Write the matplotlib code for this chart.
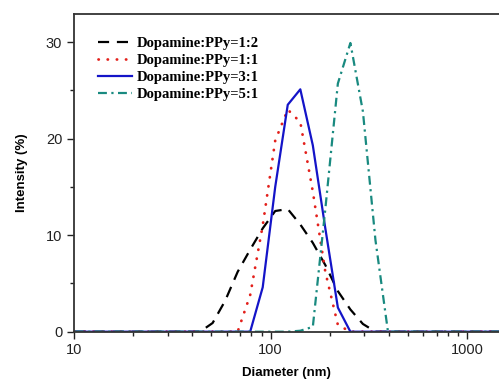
import matplotlib
matplotlib.use("Agg")
import matplotlib.pyplot as plt
from matplotlib.ticker import LogLocator, NullFormatter, FixedLocator, FuncFormatter

# Size bins (nm)
diameter = [10.10, 11.70, 13.54, 15.69, 18.17, 21.04, 24.36, 28.21, 32.67, 37.84,
            43.82, 50.75, 58.77, 68.06, 78.82, 91.28, 105.7, 122.4, 141.8, 164.2,
            190.1, 220.2, 255.0, 295.3, 342.0, 396.1, 458.7, 531.2, 615.1, 712.4,
            825.0, 955.4, 1106, 1281, 1484, 1718]

ratio_1_2 = [0, 0, 0, 0, 0, 0, 0, 0, 0, 0,
             0, 0.9, 3.2, 6.2, 8.5, 10.7, 12.5, 12.7, 11.1, 9.2,
             6.9, 4.2, 2.3, 0.8, 0, 0, 0, 0, 0, 0,
             0, 0, 0, 0, 0, 0]
ratio_1_1 = [0, 0, 0, 0, 0, 0, 0, 0, 0, 0,
             0, 0, 0, 0, 3.8, 11.0, 19.8, 23.0, 21.7, 14.5,
             6.2, 0.7, 0, 0, 0, 0, 0, 0, 0, 0,
             0, 0, 0, 0, 0, 0]
ratio_3_1 = [0, 0, 0, 0, 0, 0, 0, 0, 0, 0,
             0, 0, 0, 0, 0, 4.6, 15.0, 23.5, 25.1, 19.3,
             10.7, 2.5, 0, 0, 0, 0, 0, 0, 0, 0,
             0, 0, 0, 0, 0, 0]
ratio_5_1 = [0, 0, 0, 0, 0, 0, 0, 0, 0, 0,
             0, 0, 0, 0, 0, 0, 0, 0, 0.1, 0.5,
             12.7, 25.7, 29.9, 22.8, 9.5, 0, 0, 0, 0, 0,
             0, 0, 0, 0, 0, 0]

labels = ["Dopamine:PPy=1:2", "Dopamine:PPy=1:1", "Dopamine:PPy=3:1", "Dopamine:PPy=5:1"]

plt.rcParams['font.family'] = ['Liberation Sans', 'DejaVu Sans']

fig = plt.figure(figsize=(4.99, 3.83), dpi=100)
ax = fig.add_axes([74/499, 1-331.7/383, 1-74/499, (331.7-14)/383])

ax.plot(diameter, ratio_1_2, color='black', lw=1.6, linestyle=(0, (5, 3.5)), label=labels[0])
ax.plot(diameter, ratio_1_1, color='#e3201b', lw=2.0, linestyle=(0, (0.1, 3.2)),
        dash_capstyle='round', label=labels[1])
ax.plot(diameter, ratio_3_1, color='#1414c8', lw=1.6, linestyle='-', label=labels[2])
ax.plot(diameter, ratio_5_1, color='#198a80', lw=1.6, linestyle=(0, (4, 2, 1, 2)), label=labels[3])

ax.set_xscale('log')
ax.set_xlim(10, 10**(1 + (499-74)/196.5))
ax.set_ylim(0, 32.9)

ax.xaxis.set_major_locator(FixedLocator([10, 100, 1000]))
ax.xaxis.set_major_formatter(FuncFormatter(lambda v, p: f"{int(round(v))}"))
ax.xaxis.set_minor_locator(LogLocator(base=10, subs=range(2, 10)))
ax.xaxis.set_minor_formatter(NullFormatter())
ax.yaxis.set_major_locator(FixedLocator([0, 10, 20, 30]))
ax.yaxis.set_minor_locator(FixedLocator([5, 15, 25]))

ax.tick_params(which='major', direction='out', length=5, width=1, labelsize=10.5, colors='#222222')
ax.tick_params(which='minor', direction='out', length=3, width=1, colors='#222222')
ax.tick_params(axis='x', which='major', pad=3)

for s in ['left', 'bottom', 'top']:
    ax.spines[s].set_linewidth(1.3)
    ax.spines[s].set_color('#333333')
ax.spines['right'].set_visible(False)

ax.set_xlabel('Diameter (nm)', fontsize=9.5, fontweight='bold', labelpad=7)
ax.set_ylabel('Intensity (%)', fontsize=9.5, fontweight='bold', labelpad=13)

leg = ax.legend(loc='upper left', frameon=False, bbox_to_anchor=(0.025, 0.968),
                handlelength=2.35, handletextpad=0.3, labelspacing=0.25,
                prop={'family': 'Liberation Serif', 'weight': 'bold', 'size': 10.5})

fig.savefig('out.png', dpi=100)
